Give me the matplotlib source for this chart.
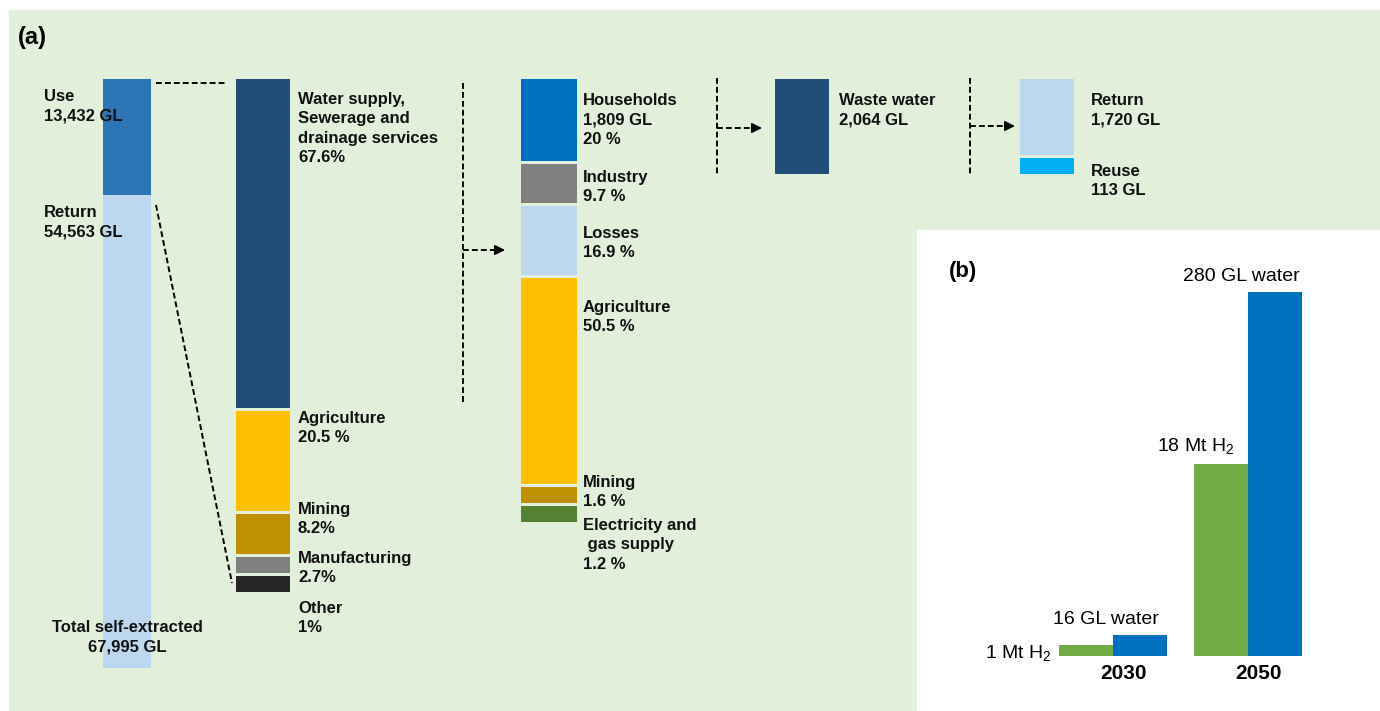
import numpy as np
import matplotlib.pyplot as plt
from matplotlib.patches import Rectangle

plt.rcParams['font.family'] = ['Liberation Sans', 'DejaVu Sans']
plt.rcParams['mathtext.fontset'] = 'custom'
plt.rcParams['mathtext.rm'] = 'Liberation Sans'
plt.rcParams['mathtext.it'] = 'Liberation Sans:italic'
plt.rcParams['mathtext.bf'] = 'Liberation Sans:bold'

# (a) total self-extracted water (GL)
extract_names = ['Use', 'Return']
extract_gl = [13432, 54563]
extract_total = 67995

# use by sector (%)
use_names = ['Water supply,\nSewerage and\ndrainage services', 'Agriculture', 'Mining',
             'Manufacturing', 'Other']
use_pct = [67.6, 20.5, 8.2, 2.7, 1.0]
use_pct_txt = ['67.6%', '20.5 %', '8.2%', '2.7%', '1%']

# water supply distribution (%)
supply_names = ['Households', 'Industry', 'Losses', 'Agriculture', 'Mining',
                'Electricity and\n gas supply']
supply_pct = [20, 9.7, 16.9, 50.5, 1.6, 1.2]
supply_pct_txt = ['20 %', '9.7 %', '16.9 %', '50.5 %', '1.6 %', '1.2 %']
households_gl = 1809

waste_water_gl = 2064
fate_names = ['Return', 'Reuse']
fate_gl = [1720, 113]

# (b) hydrogen production and water need
years = ['2030', '2050']
h2_mt = [1, 18]
water_gl = [16, 280]

extract_colors = ['#2E75B6', '#BDD7EE']
use_colors = ['#1F4E79', '#FFC000', '#BF9000', '#808080', '#262626']
supply_colors = ['#0070C0', '#808080', '#BDD7EE', '#FFC000', '#BF9000', '#548235']
waste_color = '#1F4E79'
fate_colors = ['#BDD7EE', '#00B0F0']


def stack(values, top, bottom, gap=0, min_h=16):
    # pixel extents of stacked segments, small ones kept visible
    vals = np.array(values, float)
    avail = bottom - top - gap * (len(vals) - 1)
    h = vals / vals.sum() * avail
    small = h < min_h
    h[small] = min_h
    h[~small] = vals[~small] / vals[~small].sum() * (avail - min_h * small.sum())
    tops = top + np.concatenate([[0], np.cumsum(h[:-1] + gap)])
    return tops, h


fig = plt.figure(figsize=(13.8, 7.11), dpi=100)
ax = fig.add_axes([0, 0, 1, 1])
ax.set_xlim(0, 1380)
ax.set_ylim(711, 0)
ax.axis('off')

ax.add_patch(Rectangle((9, 10), 1371, 700, color='#E2EFDA', zorder=0))
ax.add_patch(Rectangle((917, 230), 463, 481, color='white', zorder=0))

txt = dict(fontsize=12, fontweight='bold', va='top', ha='left', color='#111111', linespacing=1.36)

# column 1: total
tops, hs = stack(extract_gl, 79, 668, gap=0, min_h=0)
ax.bar([127] * 2, hs, width=48, bottom=tops, color=extract_colors, zorder=2)
for name, v, y in zip(extract_names, extract_gl, [89, 205]):
    ax.text(44, y, f'{name}\n{v:,} GL', zorder=3, **txt)
ax.text(127, 620, f'Total self-extracted\n{extract_total:,} GL', zorder=3,
        **{**txt, 'ha': 'center'})

# column 2: use by sector
tops, hs = stack(use_pct, 79, 592, gap=3)
ax.bar([263] * len(use_pct), hs, width=54, bottom=tops, color=use_colors, zorder=2)
for name, p, y in zip(use_names, use_pct_txt, [92, 411, 502, 551, 601]):
    ax.text(298, y, f'{name}\n{p}', **txt)

# column 3: water supply distribution
tops, hs = stack(supply_pct, 79, 522, gap=3)
ax.bar([549] * len(supply_pct), hs, width=56, bottom=tops, color=supply_colors, zorder=2)
ys = [93, 170, 226, 300, 475, 518]
for i, (name, p, y) in enumerate(zip(supply_names, supply_pct_txt, ys)):
    s = f'{name}\n{households_gl:,} GL\n{p}' if i == 0 else f'{name}\n{p}'
    ax.text(583, y, s, **txt)

# column 4: waste water
ax.bar([802], [95], width=54, bottom=[79], color=waste_color, zorder=2)
ax.text(839, 93, f'Waste water\n{waste_water_gl:,} GL', **txt)

# column 5: return / reuse
tops, hs = stack(fate_gl, 79, 174, gap=3)
ax.bar([1047] * 2, hs, width=54, bottom=tops, color=fate_colors, zorder=2)
for name, v, y in zip(fate_names, fate_gl, [93, 164]):
    ax.text(1091, y, f'{name}\n{v:,} GL', **txt)

# dashed connectors
dash = dict(color='k', lw=1.4, ls=(0, (3, 1.6)), zorder=3)
ax.plot([156, 227], [83, 83], **dash)
ax.plot([156, 232], [205, 583], **dash)
for x, y0, y1, ya, xa in [(463, 83, 405, 250, 505), (717, 78, 175, 128, 762),
                           (970, 78, 175, 126, 1015)]:
    ax.plot([x, x], [y0, y1], **dash)
    ax.plot([x, xa - 8], [ya, ya], **dash)
    ax.annotate('', xy=(xa, ya), xytext=(xa - 9, ya),
                arrowprops=dict(arrowstyle='-|>,head_length=0.6,head_width=0.3',
                                color='k', lw=1.2, shrinkA=0, shrinkB=0))

ax.text(18, 26, '(a)', fontsize=17, fontweight='bold', va='top', ha='left')
ax.text(949, 261, '(b)', fontsize=16, fontweight='bold', va='top', ha='left')

# panel (b)
axb = fig.add_axes([1040 / 1380, (711 - 656) / 711, 280 / 1380, (656 - 250) / 711])
axw = axb.twinx()
for a in (axb, axw):
    a.patch.set_alpha(0)
    for sp in a.spines.values():
        sp.set_visible(False)
    a.set_xticks([])
    a.set_yticks([])
    a.set_xlim(-0.54, 1.53)
axb.set_ylim(0, 38)
axw.set_ylim(0, 312)
x = np.arange(len(years))
axb.bar(x - 0.2, h2_mt, width=0.4, color='#70AD47')
axw.bar(x + 0.2, water_gl, width=0.4, color='#0070C0')

lab = dict(fontsize=14, textcoords='offset pixels')
axb.annotate(f'{h2_mt[0]} Mt H$_2$', xy=(x[0] - 0.4, h2_mt[0] / 2), xytext=(-7, -2),
             ha='right', va='center', **lab)
axb.annotate(f'{h2_mt[1]} Mt H$_2$', xy=(x[1], h2_mt[1]), xytext=(-14, 8),
             ha='right', va='bottom', **lab)
for i in range(len(years)):
    axw.annotate(f'{water_gl[i]} GL water', xy=(x[i], water_gl[i]), xytext=(-7, 7),
                 ha='center', va='bottom', **lab)
    axb.annotate(years[i], xy=(x[i], 0), xytext=(10, -8), ha='center', va='top',
                 fontsize=15, fontweight='bold', textcoords='offset pixels')

fig.savefig('out.png', dpi=100)
